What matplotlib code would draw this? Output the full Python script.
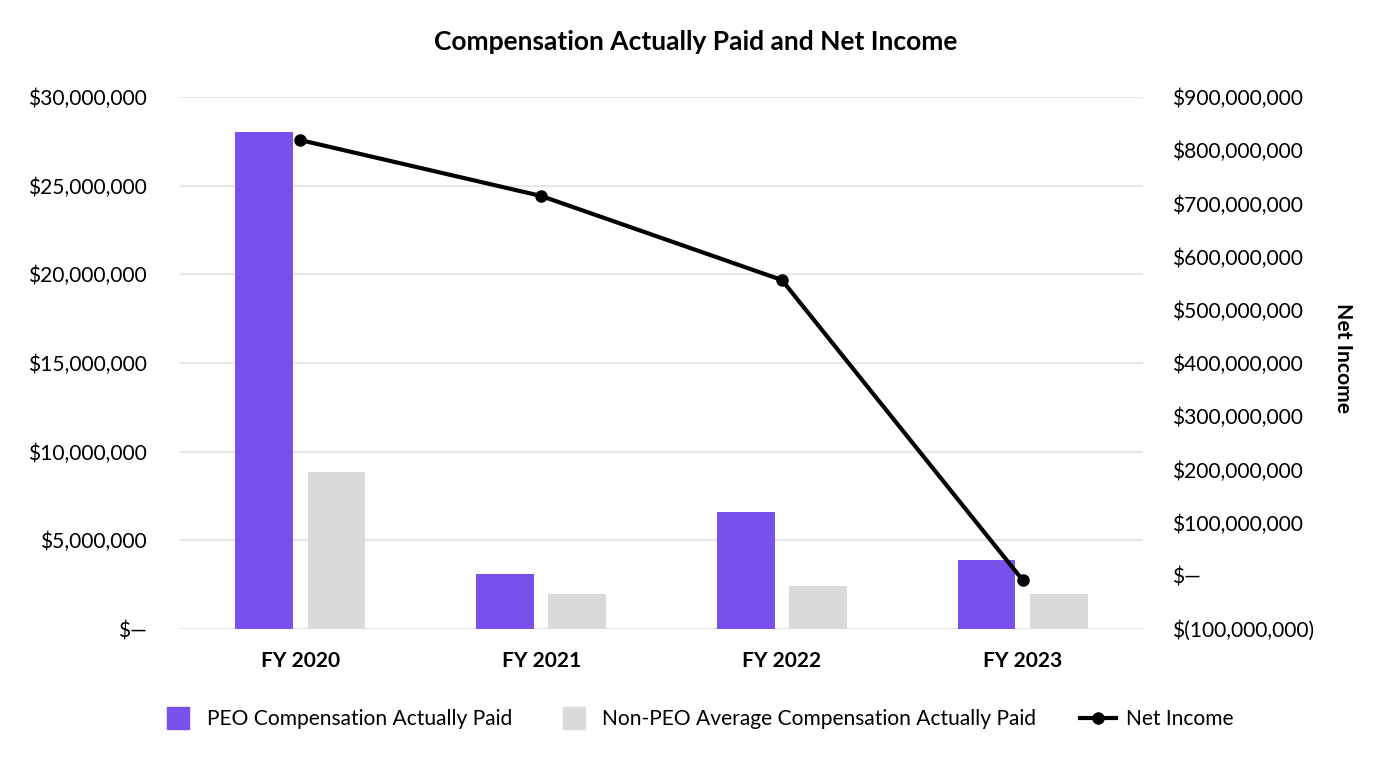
import matplotlib.pyplot as plt
import matplotlib.ticker as mticker
from matplotlib.lines import Line2D
import numpy as np

plt.rcParams['font.family'] = ['Lato', 'DejaVu Sans']

years = ['FY 2020', 'FY 2021', 'FY 2022', 'FY 2023']
peo_cap = [28000000, 3100000, 6600000, 3900000]
non_peo_cap = [8850000, 1950000, 2450000, 1950000]
net_income = [819000000, 714000000, 556000000, -8000000]

purple = '#7950EB'
grey = '#DADADA'
fs = 15.1


def money(v, pos):
    if v == 0:
        return '$\u2014'
    if v < 0:
        return '$({:,.0f})'.format(-v)
    return '${:,.0f}'.format(v)


fig = plt.figure(figsize=(13.92, 7.68), dpi=100)
ax = fig.add_axes([180 / 1392, 1 - 629 / 768, 963 / 1392, 532 / 768])
ax2 = ax.twinx()

x = np.arange(len(years))
w = 0.24
ax.bar(x - 0.15, peo_cap, w, color=purple, zorder=3)
ax.bar(x + 0.15, non_peo_cap, w, color=grey, zorder=3)
ax2.plot(x, net_income, color='black', lw=3, marker='o', ms=8, zorder=4)

ax.set_xlim(-0.5, 3.5)
ax.set_ylim(0, 30000000)
ax.set_yticks(np.arange(0, 30000001, 5000000))
ax2.set_ylim(-100000000, 900000000)
ax2.set_yticks(np.arange(-100000000, 900000001, 100000000))
ax.yaxis.set_major_formatter(mticker.FuncFormatter(money))
ax2.yaxis.set_major_formatter(mticker.FuncFormatter(money))

ax.set_xticks(x)
ax.set_xticklabels(years, fontweight='bold', fontsize=fs)
ax.grid(axis='y', color='#E6E6E6', lw=1.5, zorder=0)
ax.set_axisbelow(True)

for a in (ax, ax2):
    for s in a.spines.values():
        s.set_visible(False)
ax.tick_params(axis='y', length=0, pad=24, labelsize=fs)
ax.tick_params(axis='x', length=0, pad=16)
ax2.tick_params(axis='y', length=0, pad=21, labelsize=fs)

ax2.set_ylabel('Net Income', fontweight='bold', fontsize=fs, rotation=270,
               va='center', ha='center')
ax2.yaxis.set_label_coords((1343 - 180) / 963, 0.51)

fig.text(0.4995, 1 - 42 / 768, 'Compensation Actually Paid and Net Income',
         ha='center', va='center', fontweight='bold', fontsize=19)

handles = [
    Line2D([], [], ls='none', marker='s', ms=16.5, color=purple),
    Line2D([], [], ls='none', marker='s', ms=16.5, color=grey),
    Line2D([], [], color='black', lw=3, marker='o', ms=8),
]
labels = ['PEO Compensation Actually Paid',
          'Non-PEO Average Compensation Actually Paid', 'Net Income']
fig.legend(handles, labels, loc='center', bbox_to_anchor=(697 / 1392, 1 - 719 / 768),
           ncol=3, frameon=False, fontsize=fs, columnspacing=2.1,
           handlelength=1.7, handletextpad=0.5)

fig.savefig('out.png', dpi=100)
